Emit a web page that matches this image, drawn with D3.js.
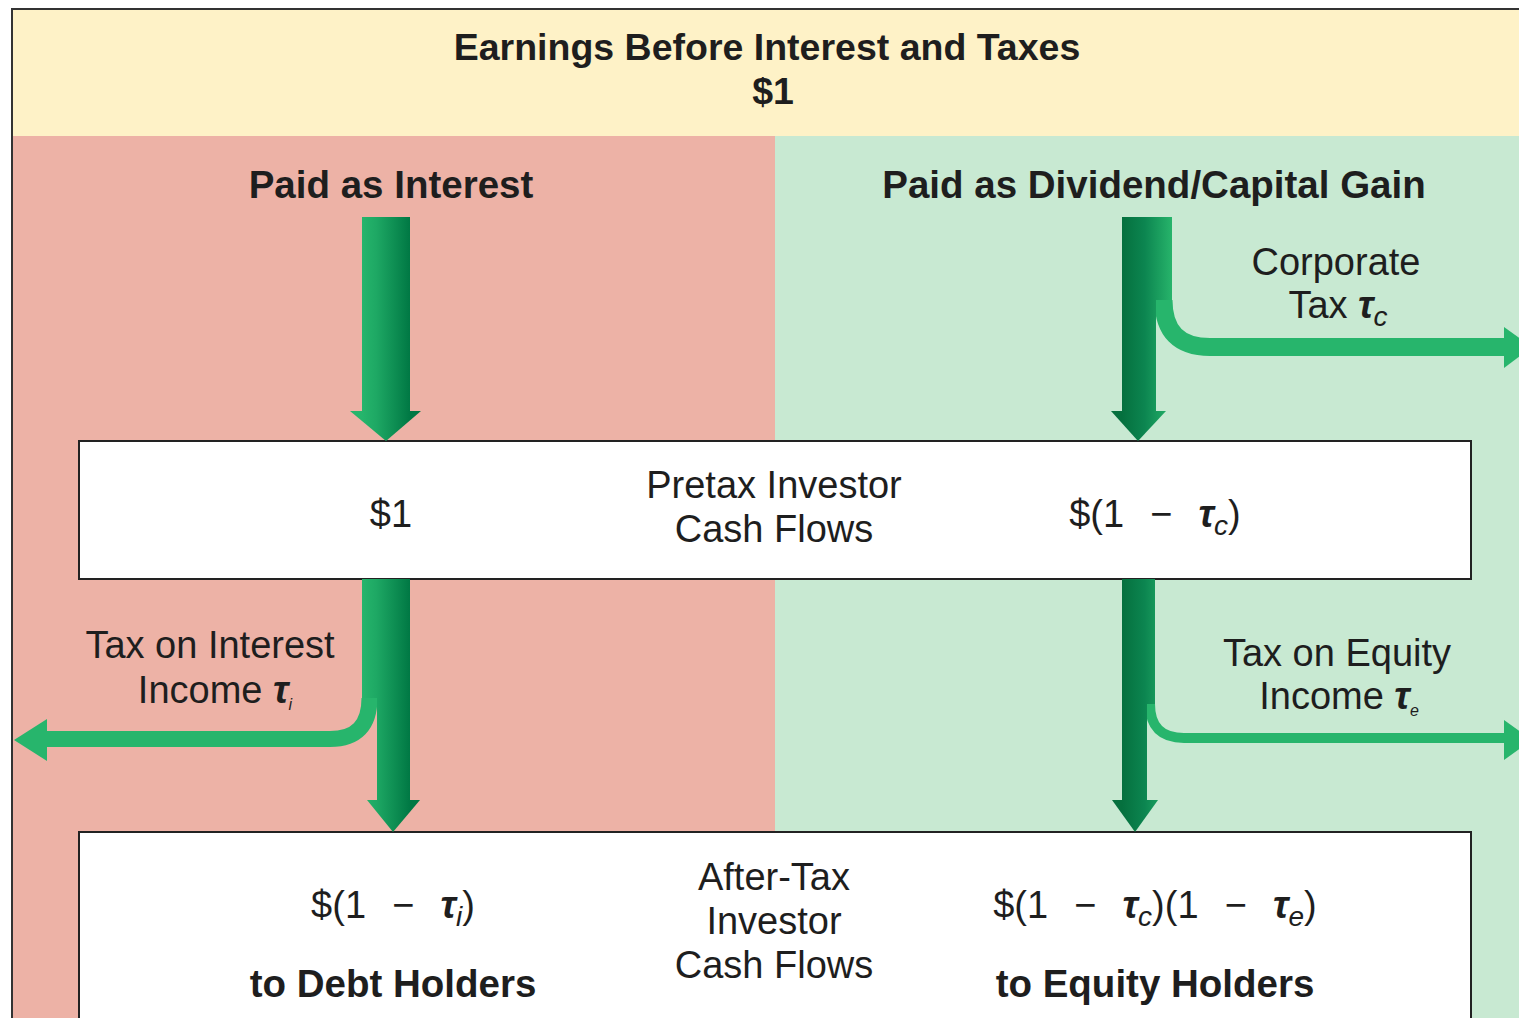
<!DOCTYPE html>
<html>
<head>
<meta charset="utf-8">
<script src="https://cdn.jsdelivr.net/npm/d3@7"></script>
<style>
  body { margin: 0; background: #fff; }
  svg { display: block; }
  text { font-family: "Liberation Sans", Arial, sans-serif; fill: #1e1e1e; }
</style>
</head>
<body>
<div id="chart"></div>
<script>
// Labels of the diagram (a string is plain text, a pair is [symbol, subscript])
var titleLines = ["Earnings Before Interest and Taxes", "$1"]
var routeLabels = ["Paid as Interest", "Paid as Dividend/Capital Gain"]
var corpTaxLines = [["Corporate"], ["Tax ", ["τ", "c"]]]
var interestTaxLines = [["Tax on Interest"], ["Income ", ["τ", "i"]]]
var equityTaxLines = [["Tax on Equity"], ["Income ", ["τ", "e"]]]
var pretaxLines = ["Pretax Investor", "Cash Flows"]
var aftertaxLines = ["After-Tax", "Investor", "Cash Flows"]
var pretaxValues = [["$1"], ["$(1  −  ", ["τ", "c"], ")"]]
var aftertaxValues = [["$(1  −  ", ["τ", "i"], ")"], ["$(1  −  ", ["τ", "c"], ")(1  −  ", ["τ", "e"], ")"]]
var holderLabels = ["to Debt Holders", "to Equity Holders"]

// set the dimensions
var width = 1519, height = 1018

// columns and rows of the layout
var colX = { debt: 386, mid: 774, equity: 1140 }
var rowY = { top: 9, split: 136, box1: 441, box1b: 579, box2: 832 }

var svg = d3.select("#chart")
  .append("svg")
  .attr("width", width)
  .attr("height", height)

var defs = svg.append("defs")

function gradient(id, x1, x2, stops) {
  var g = defs.append("linearGradient")
    .attr("id", id)
    .attr("gradientUnits", "userSpaceOnUse")
    .attr("x1", x1).attr("x2", x2).attr("y1", 0).attr("y2", 0)
  stops.forEach(function(s) {
    g.append("stop").attr("offset", s[0]).attr("stop-color", s[1])
  })
}
gradient("gL", 362, 410, [[0, "#26b56c"], [0.3, "#1ea864"], [1, "#007844"]])
gradient("gR", 1122, 1172, [[0, "#05703e"], [0.45, "#0c8550"], [1, "#27b46b"]])

// backgrounds
svg.append("rect")
  .attr("x", 12).attr("y", rowY.split)
  .attr("width", colX.mid + 1 - 12).attr("height", height)
  .style("fill", "#edb2a6")
svg.append("rect")
  .attr("x", colX.mid + 1).attr("y", rowY.split)
  .attr("width", width).attr("height", height)
  .style("fill", "#c8e9d2")
svg.append("rect")
  .attr("x", 12).attr("y", rowY.top)
  .attr("width", width).attr("height", rowY.split - rowY.top)
  .style("fill", "#fef2c7")
svg.append("rect")
  .attr("x", 12).attr("y", rowY.top)
  .attr("width", width + 40).attr("height", height + 40)
  .style("fill", "none")
  .style("stroke", "#333")
  .style("stroke-width", 2)

// the two white boxes
svg.append("rect")
  .attr("x", 79).attr("y", rowY.box1)
  .attr("width", 1392).attr("height", rowY.box1b - rowY.box1)
  .style("fill", "#fff").style("stroke", "#222").style("stroke-width", 2)
svg.append("rect")
  .attr("x", 79).attr("y", rowY.box2)
  .attr("width", 1392).attr("height", 300)
  .style("fill", "#fff").style("stroke", "#222").style("stroke-width", 2)

// writes one line of text, with tau symbols and subscripts
function writeLine(parts, x, y, opt) {
  var t = svg.append("text")
    .attr("x", x).attr("y", y)
    .attr("text-anchor", "middle")
    .attr("xml:space", "preserve")
    .style("white-space", "pre")
    .style("word-spacing", (opt.ws || 0) + "px")
    .style("font-size", opt.size + "px")
    .style("font-weight", opt.bold ? "bold" : "normal")
  var back = 0
  parts.forEach(function(p) {
    if (typeof p === "string") {
      t.append("tspan").attr("dy", back).text(p)
    } else {
      t.append("tspan").attr("dy", back)
        .style("font-style", "italic").style("font-weight", "bold")
        .text(p[0])
      t.append("tspan").attr("dy", opt.subDy)
        .style("font-style", "italic")
        .style("font-size", opt.sub + "px")
        .text(p[1])
      back = -opt.subDy
      return
    }
    back = 0
  })
}

var heading = { size: 37.5, bold: true }
var bold = { size: 38.5, bold: true }
var plain = { size: 38, sub: 28, subDy: 8 }
var formula = { size: 38, sub: 28, subDy: 8, ws: 2.5 }
var small = { size: 38, sub: 16, subDy: 7 }

writeLine([titleLines[0]], 767, 60, heading)
writeLine([titleLines[1]], 773, 104, heading)
writeLine([routeLabels[0]], 391, 198, bold)
writeLine([routeLabels[1]], 1154, 198, bold)

writeLine(corpTaxLines[0], 1336, 275, plain)
writeLine(corpTaxLines[1], 1338, 318, plain)

writeLine(pretaxValues[0], 391, 527, plain)
writeLine([pretaxLines[0]], colX.mid, 498, plain)
writeLine([pretaxLines[1]], colX.mid, 542, plain)
writeLine(pretaxValues[1], 1155, 527, formula)

writeLine(interestTaxLines[0], 210, 658, small)
writeLine(interestTaxLines[1], 215, 703, small)
writeLine(equityTaxLines[0], 1337, 666, small)
writeLine(equityTaxLines[1], 1339, 709, small)

writeLine(aftertaxValues[0], 393, 918, formula)
writeLine(aftertaxValues[1], 1155, 918, formula)
writeLine([holderLabels[0]], 393, 997, bold)
writeLine([holderLabels[1]], 1155, 997, bold)
aftertaxLines.forEach(function(l, i) {
  writeLine([l], colX.mid, 890 + i * 44, plain)
})

// arrows
var arrows = svg.append("g")
var light = "#27b56c"

function head(pts, fill) {
  arrows.append("polygon")
    .attr("points", pts.map(function(p) { return p.join(",") }).join(" "))
    .style("fill", fill)
}
function branch(d, w) {
  arrows.append("path").attr("d", d)
    .style("fill", "none").style("stroke", light)
    .style("stroke-width", w)
}

// interest: top
arrows.append("rect").attr("x", 362).attr("y", 217).attr("width", 48).attr("height", 195).style("fill", "url(#gL)")
head([[350, 411], [421, 411], [colX.debt, rowY.box1]], "url(#gL)")

// interest: bottom, with tax on interest going left
branch("M369.5,698 Q369.5,739 330,739 H44", 16)
arrows.append("rect").attr("x", 362).attr("y", rowY.box1b).attr("width", 48).attr("height", 698 - rowY.box1b).style("fill", "url(#gL)")
arrows.append("rect").attr("x", 377).attr("y", rowY.box1b).attr("width", 33).attr("height", 222).style("fill", "url(#gL)")
head([[367, 800], [420, 800], [393, rowY.box2]], "url(#gL)")
head([[14, 740], [47, 719], [47, 761]], light)

// dividend: top, with corporate tax going right
branch("M1163.5,300 Q1163.5,347 1210,347 H1506", 18)
arrows.append("rect").attr("x", 1122).attr("y", 217).attr("width", 50).attr("height", 300 - 217).style("fill", "url(#gR)")
arrows.append("rect").attr("x", 1122).attr("y", 217).attr("width", 34).attr("height", 195).style("fill", "url(#gR)")
head([[1111, 411], [1166, 411], [1138, rowY.box1]], "url(#gR)")
head([[1504, 327], [1532, 347], [1504, 368]], light)

// dividend: bottom, with tax on equity going right
branch("M1150,704 Q1150,738 1184,738 H1506", 10)
arrows.append("rect").attr("x", 1122).attr("y", rowY.box1b).attr("width", 33).attr("height", 704 - rowY.box1b).style("fill", "url(#gR)")
arrows.append("rect").attr("x", 1122).attr("y", rowY.box1b).attr("width", 25).attr("height", 222).style("fill", "url(#gR)")
head([[1112, 800], [1158, 800], [1135, rowY.box2]], "url(#gR)")
head([[1504, 720], [1532, 740], [1504, 760]], light)
</script>
</body>
</html>
